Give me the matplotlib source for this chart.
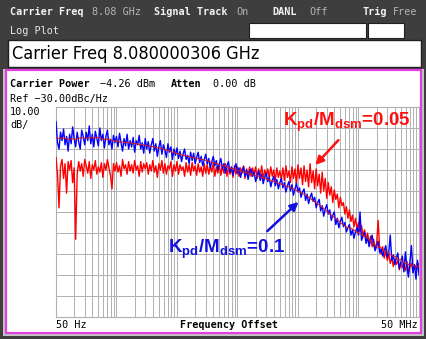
import matplotlib
matplotlib.use('Agg')
import matplotlib.pyplot as plt
import numpy as np
import pandas as pd
from matplotlib.patches import Rectangle

W, H = 427, 339

# phase noise traces, dBc/Hz (241 sweep points, 50 Hz .. 50 MHz)
blue_dbc = [-37, -47, -50, -42, -46, -40.5, -48, -44, -51, -43,
            -47.5, -39.5, -45, -49, -42, -46.5, -50, -41, -44, -48,
            -42, -46, -39, -47.5, -43, -49, -41.5, -45, -48.5, -40,
            -46, -43, -49.5, -44, -41, -48, -45.5, -50, -43.5, -47,
            -44, -49, -42.5, -47, -51, -45, -48.5, -43, -50, -46,
            -49, -44.5, -51.5, -46, -48, -43.5, -50, -47, -52, -45,
            -50, -46.5, -52, -48, -45, -51, -47.5, -53.5, -49, -46,
            -52.5, -48, -50.5, -54, -47.5, -51.5, -49, -55, -50, -53,
            -49.5, -54.5, -51, -56, -52.5, -50, -55, -53, -57, -51.5,
            -55.5, -52, -57, -54, -51.5, -56.5, -53.5, -58, -55, -52.5,
            -57, -54.5, -59, -56, -53.5, -58, -55.5, -60, -57, -54.5,
            -59.5, -57, -61.5, -58, -56, -61, -58.5, -62.5, -59, -57,
            -61.5, -59, -63.5, -60.5, -58.5, -63, -60, -64.5, -61, -59.5,
            -63, -61, -65.5, -62.5, -60.5, -65, -62, -66.5, -63.5, -61.5,
            -65.5, -63.5, -68, -65, -63, -67.5, -64.5, -69, -66, -64,
            -68.5, -66, -70.5, -67.5, -65.5, -70, -67, -72, -69, -66.5,
            -70.5, -68.5, -73, -70.5, -69, -74.5, -71.5, -76, -73, -71,
            -75, -73, -78, -75.5, -74, -79.5, -77, -82, -78.5, -76.5,
            -81, -79, -84, -81.5, -80, -86, -83, -87.5, -84.5, -82.5,
            -87, -85, -89.5, -87.5, -86, -91, -88.5, -92.5, -89.5, -87.5,
            -91, -80, -93.5, -91.5, -89.5, -95, -92, -96.5, -93.5, -91,
            -95.5, -98.5, -96, -94, -99.5, -97.5, -101, -98.5, -96, -101.5,
            -99.5, -91, -103, -100.5, -105, -102, -99.5, -107, -104, -101,
            -108.5, -99, -106, -111, -103.5, -96, -109, -105, -112, -103,
            -110]
red_dbc = [-54, -62, -78, -58, -55, -64, -57, -71, -56, -60,
           -55.5, -66, -59, -93, -62, -56, -60.5, -57, -63, -55,
           -58, -61.5, -56, -64, -57.5, -60, -55.5, -62, -58.5, -61,
           -56.5, -63.5, -57, -60, -55, -59, -62.5, -69, -57, -60.5,
           -56.5, -61, -58, -63, -55, -59.5, -57.5, -62, -56, -60.5,
           -57.5, -61.5, -55.5, -60, -58, -63, -56, -61, -57, -59.5,
           -56.5, -62, -57.5, -60.5, -55.5, -61, -58, -63.5, -57, -60,
           -55.5, -61.5, -57, -62, -58, -59.5, -56, -63, -57.5, -60.5,
           -56, -62, -57.5, -60, -58.5, -63, -56.5, -61, -57.5, -62.5,
           -56.5, -60.5, -58, -62.5, -57, -61, -58.5, -63, -57, -61.5,
           -57.5, -62, -58, -61, -56.5, -63, -58.5, -61.5, -57.5, -62.5,
           -58, -61.5, -57, -63, -58.5, -62, -59, -63.5, -58, -62,
           -58.5, -63, -59, -61.5, -58, -64, -59.5, -62.5, -58.5, -63,
           -59, -62.5, -58.5, -64, -59.5, -63, -58, -64.5, -60, -63,
           -59.5, -64, -58.5, -63, -60, -65, -59, -63.5, -60.5, -64.5,
           -59, -65, -58, -63.5, -60.5, -66, -58.5, -64, -59.5, -66.5,
           -57.5, -64, -59, -67, -58, -65.5, -60, -68, -57, -66,
           -60.5, -69, -59.5, -67.5, -62, -71, -61, -70, -64, -73.5,
           -66, -72, -68, -75.5, -69.5, -74, -71.5, -78, -73, -77,
           -75.5, -81, -77.5, -83, -79, -84.5, -81.5, -87, -83, -88,
           -85, -89.5, -86.5, -91.5, -88.5, -93, -90, -95, -91.5, -96.5,
           -93, -98, -95, -84, -97.5, -100, -96.5, -102, -98.5, -103,
           -100, -104.5, -101.5, -106, -102.5, -105, -103, -107.5, -104, -106.5,
           -105, -108, -103.5, -109, -106, -104.5, -108.5, -105.5, -107, -104,
           -106]
offset_hz = np.geomspace(50, 50e6, len(blue_dbc))
blue_smooth = pd.Series(blue_dbc).rolling(15, center=True, min_periods=1).mean()

grid_hz = [m * 50 * 10**k for k in range(6) for m in range(1, 10)] + [50e6]


def fx(x):
    return x / W


def fy(y):
    return 1 - y / H


def box(x0, y0, x1, y1, fc, ec='none', lw=0):
    fig.patches.append(Rectangle((fx(x0), fy(y1)), (x1 - x0) / W, (y1 - y0) / H,
                                 transform=fig.transFigure, fc=fc, ec=ec, lw=lw, zorder=-1))


plt.rcParams['mathtext.fontset'] = 'custom'
plt.rcParams['mathtext.bf'] = 'Liberation Sans:bold'
plt.rcParams['mathtext.rm'] = 'Liberation Sans'

fig = plt.figure(figsize=(W / 100, H / 100), dpi=100, facecolor='#3e3e3e')

# screen frame
box(249, 23, 366, 38, 'white', '#202020', 0.8)
box(368, 23, 404, 38, 'white', '#202020', 0.8)
box(8, 40, 421, 67, 'white', '#202020', 1.0)
box(3, 69, 424, 336, '#c4c4c4')
box(6, 70, 421, 333, 'white', '#e040e0', 1.6)

mono = 'DejaVu Sans Mono'
hdr = dict(family=mono, size=7.3, va='center')
fig.text(fx(10), fy(12), 'Carrier Freq', color='#f4f4f4', weight='bold', **hdr)
fig.text(fx(92), fy(12), '8.08 GHz', color='#b4b4b4', **hdr)
fig.text(fx(154), fy(12), 'Signal Track', color='#f4f4f4', weight='bold', **hdr)
fig.text(fx(236), fy(12), 'On', color='#b4b4b4', **hdr)
fig.text(fx(272), fy(12), 'DANL', color='#f4f4f4', weight='bold', **hdr)
fig.text(fx(309), fy(12), 'Off', color='#b4b4b4', **hdr)
fig.text(fx(363), fy(12), 'Trig', color='#f4f4f4', weight='bold', **hdr)
fig.text(fx(393), fy(12), 'Free', color='#b4b4b4', **hdr)
fig.text(fx(10), fy(31), 'Log Plot', color='#e8e8e8', **hdr)

fig.text(fx(12), fy(54), 'Carrier Freq 8.080000306 GHz', family='DejaVu Sans', stretch='condensed',
         size=13, va='center', color='black')

txt = dict(family=mono, size=7.3, va='center', color='black')
fig.text(fx(10), fy(84), 'Carrier Power', weight='bold', **txt)
fig.text(fx(100), fy(84), '\u22124.26 dBm', **txt)
fig.text(fx(171), fy(84), 'Atten', weight='bold', **txt)
fig.text(fx(213), fy(84), '0.00 dB', **txt)
fig.text(fx(10), fy(99), 'Ref \u221230.00dBc/Hz', **txt)
fig.text(fx(10), fy(112), '10.00', **txt)
fig.text(fx(10), fy(125), 'dB/', **txt)
fig.text(fx(56), fy(325), '50 Hz', **txt)
fig.text(fx(229.5), fy(325), 'Frequency Offset', weight='bold', ha='center', **txt)
fig.text(fx(418), fy(325), '50 MHz', ha='right', **txt)

# trace window
ax = fig.add_axes([fx(56), fy(317), 363 / W, 210 / H])
ax.set_xscale('log')
ax.set_xlim(50, 50e6)
ax.set_ylim(-130, -30)
ax.set_facecolor('white')
for f in grid_hz:
    ax.axvline(f, color='#b0b0b0', lw=0.7, zorder=1)
for d in range(-120, -30, 10):
    ax.axhline(d, color='#b0b0b0', lw=0.7, zorder=1)
for s in ax.spines.values():
    s.set_color('#b0b0b0')
    s.set_linewidth(0.8)
ax.set_xticks([])
ax.set_yticks([])
ax.minorticks_off()

ax.plot(offset_hz, red_dbc, color='#ff0000', lw=1.0, zorder=3)
ax.plot(offset_hz, blue_dbc, color='#0000ff', lw=1.0, zorder=4)
ax.plot(offset_hz, blue_smooth, color='#d02030', lw=0.8, zorder=5)

lab = dict(family='Liberation Sans', weight='bold', size=13.5, ha='left', va='baseline', zorder=6)
ax.text(2.86e5, -39.0, r'$\mathbf{K_{pd}/M_{dsm}}$=0.05', color='#ff1010', **lab)
ax.annotate('', xy=(9.0e5, -58.6), xytext=(2.5e6, -44.8),
            arrowprops=dict(arrowstyle='-|>', color='#ff1010', lw=1.8, mutation_scale=12), zorder=6)
ax.text(3.6e3, -99.5, r'$\mathbf{K_{pd}/M_{dsm}}$=0.1', color='#1010e0', **lab)
ax.annotate('', xy=(5.5e5, -74.3), xytext=(1.44e5, -90),
            arrowprops=dict(arrowstyle='-|>', color='#1010e0', lw=1.8, mutation_scale=12), zorder=6)

fig.savefig('out.png', dpi=100, facecolor=fig.get_facecolor())
